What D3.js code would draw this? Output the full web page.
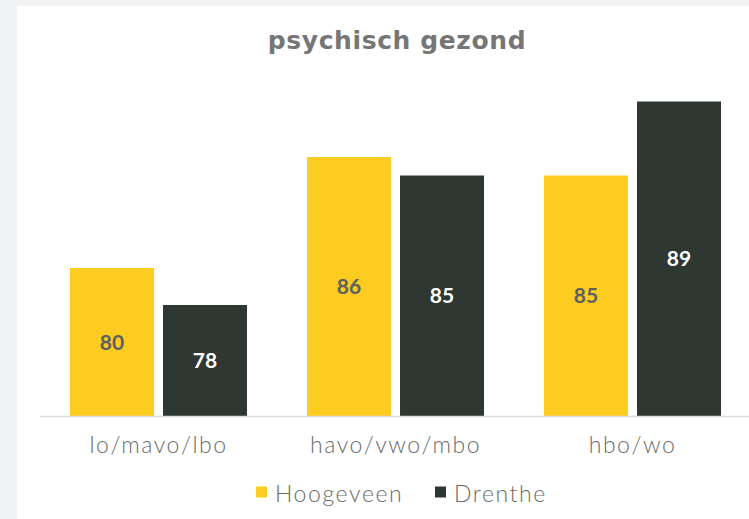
<!DOCTYPE html>
<html>
<head>
<meta charset="utf-8">
<script src="https://cdn.jsdelivr.net/npm/d3@7"></script>
<style>
  html, body { margin: 0; padding: 0; background: #f1f2f4; }
  svg { display: block; }
</style>
</head>
<body>
<svg id="chart" width="749" height="519"></svg>
<script>
// Share of people reporting good mental health, by education level
const categories = ["lo/mavo/lbo", "havo/vwo/mbo", "hbo/wo"];
const seriesNames = ["Hoogeveen", "Drenthe"];
const hoogeveen = [80, 86, 85];
const drenthe = [78, 85, 89];
const title = "psychisch gezond";

const colors = { Hoogeveen: "#fccc21", Drenthe: "#2e3732" };
const labelColors = { Hoogeveen: "#5f5f5f", Drenthe: "#ffffff" };
const values = { Hoogeveen: hoogeveen, Drenthe: drenthe };

const svg = d3.select("#chart");
const W = 749, H = 519;
const lightFont = "Lato, 'Open Sans', sans-serif";

// white card
svg.append("rect").attr("x", 17).attr("y", 6).attr("width", W - 17).attr("height", H - 6).attr("fill", "#ffffff");

const x0 = d3.scaleBand().domain(categories).range([40, 751]).paddingInner(0.253).paddingOuter(0.1265);
const x1 = d3.scaleBand().domain(seriesNames).range([0, x0.bandwidth()]).paddingInner(0.097);
const y = d3.scaleLinear().domain([72, 90]).range([416, 83]);

// title
svg.append("text")
  .attr("x", 397).attr("y", 49)
  .attr("text-anchor", "middle")
  .attr("font-family", "'DejaVu Sans', sans-serif")
  .attr("font-weight", 700)
  .attr("font-size", 25)
  .attr("letter-spacing", 0.6)
  .attr("fill", "#767676")
  .text(title);

// bars
const groups = svg.append("g").selectAll("g")
  .data(categories)
  .join("g")
  .attr("transform", d => `translate(${x0(d)},0)`);

const cells = groups.selectAll("g")
  .data((c, i) => seriesNames.map(s => ({ s, v: values[s][i] })))
  .join("g");

cells.append("rect")
  .attr("x", d => x1(d.s))
  .attr("y", d => y(d.v))
  .attr("width", x1.bandwidth())
  .attr("height", d => y(72) - y(d.v))
  .attr("fill", d => colors[d.s]);

cells.append("text")
  .attr("x", d => x1(d.s) + x1.bandwidth() / 2)
  .attr("y", d => (y(d.v) + y(72)) / 2)
  .attr("dy", "0.36em")
  .attr("text-anchor", "middle")
  .attr("font-family", lightFont)
  .attr("font-weight", 700)
  .attr("font-size", 21)
  .attr("fill", d => labelColors[d.s])
  .text(d => d.v);

// category axis
const axis = svg.append("g")
  .attr("transform", `translate(0,${y(72)})`)
  .call(d3.axisBottom(x0).tickSize(0).tickPadding(0));
axis.select(".domain").remove();
axis.append("line")
  .attr("x1", 40).attr("x2", W).attr("y1", 0.5).attr("y2", 0.5)
  .attr("stroke", "#dedede").attr("stroke-width", 1.5);
axis.selectAll(".tick text")
  .attr("dy", null)
  .attr("y", 37)
  .attr("font-family", lightFont)
  .attr("font-weight", 300)
  .attr("font-size", 23)
  .attr("letter-spacing", 1.5)
  .attr("fill", "#6b6b6b");

// legend
const legendItems = [
  { s: "Hoogeveen", x: 256 },
  { s: "Drenthe", x: 435 }
];
const legend = svg.append("g").attr("transform", "translate(0,492)");
legendItems.forEach(it => {
  legend.append("rect").attr("x", it.x).attr("y", -5.5).attr("width", 11).attr("height", 11).attr("fill", colors[it.s]);
  legend.append("text")
    .attr("x", it.x + 19).attr("y", 10)
    .attr("font-family", lightFont)
    .attr("font-weight", 300)
    .attr("font-size", 23)
    .attr("letter-spacing", 1.6)
    .attr("fill", "#6b6b6b")
    .text(it.s);
});
</script>
</body>
</html>
